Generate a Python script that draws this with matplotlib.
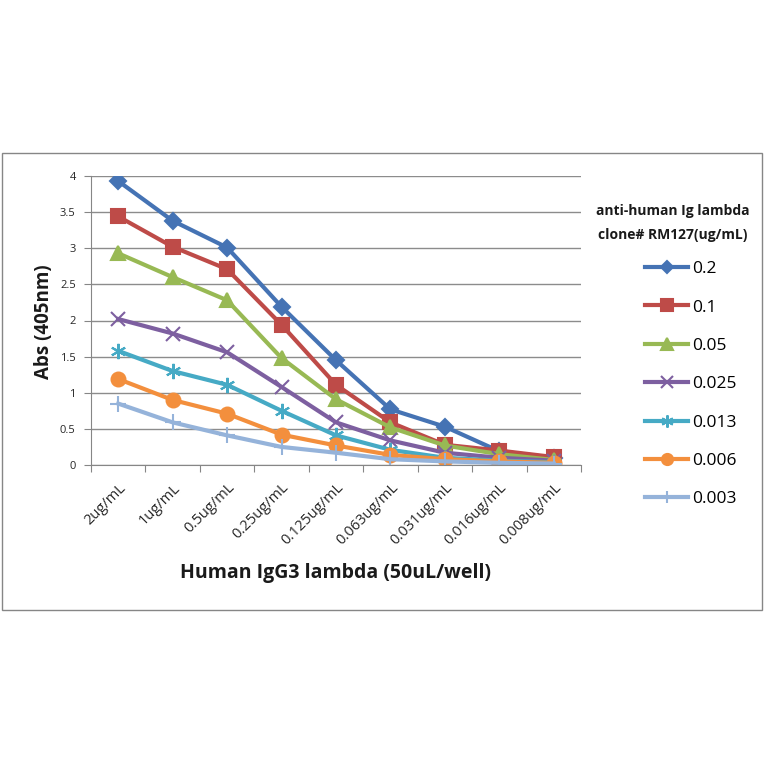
import numpy as np
import matplotlib.pyplot as plt
from matplotlib.patches import Rectangle

plt.rcParams["font.family"] = ["Open Sans", "DejaVu Sans"]

concs = ["2ug/mL", "1ug/mL", "0.5ug/mL", "0.25ug/mL", "0.125ug/mL",
         "0.063ug/mL", "0.031ug/mL", "0.016ug/mL", "0.008ug/mL"]
series_labels = ["0.2", "0.1", "0.05", "0.025", "0.013", "0.006", "0.003"]

abs_02 = [3.93, 3.38, 3.01, 2.19, 1.45, 0.77, 0.53, 0.19, 0.10]
abs_01 = [3.44, 3.02, 2.71, 1.94, 1.11, 0.59, 0.28, 0.20, 0.11]
abs_005 = [2.93, 2.60, 2.28, 1.48, 0.91, 0.52, 0.27, 0.15, 0.07]
abs_0025 = [2.02, 1.82, 1.56, 1.08, 0.59, 0.34, 0.17, 0.10, 0.06]
abs_0013 = [1.58, 1.30, 1.11, 0.75, 0.41, 0.21, 0.10, 0.06, 0.04]
abs_0006 = [1.19, 0.90, 0.71, 0.42, 0.27, 0.14, 0.08, 0.05, 0.03]
abs_0003 = [0.85, 0.59, 0.41, 0.25, 0.17, 0.08, 0.05, 0.03, 0.02]
all_series = [abs_02, abs_01, abs_005, abs_0025, abs_0013, abs_0006, abs_0003]

colors = ["#4573B4", "#BE4B48", "#98B954", "#7D5FA0", "#46AAC5", "#F38F3D", "#95B3DA"]
markers = ["D", "s", "^", "x", (6, 2, 0), "o", "+"]
msizes = [8, 10, 10, 10, 11, 10, 11]

W = 764.0
fig = plt.figure(figsize=(7.64, 7.64), dpi=100)
# outer chart border
fig.patches.append(Rectangle((2/W, 1-610/W), 760/W, 457/W,
                             transform=fig.transFigure, fill=False,
                             edgecolor="#868686", lw=1))

ax = fig.add_axes([91/W, 1-465/W, 490/W, 289/W])
x = np.arange(len(concs))
for vals, lab, c, m, ms in zip(all_series, series_labels, colors, markers, msizes):
    ax.plot(x, vals, color=c, lw=3, marker=m, ms=ms, mec=c, mew=1.5, label=lab)

ax.set_xlim(-0.5, len(concs) - 0.5)
ax.set_ylim(0, 4)
ax.set_yticks(np.arange(0, 4.01, 0.5))
ax.set_yticklabels(["0", "0.5", "1", "1.5", "2", "2.5", "3", "3.5", "4"], fontsize=8)
ax.yaxis.grid(True, color="#8c8c8c", lw=1)
ax.set_axisbelow(True)
ax.set_xticks(np.arange(-0.5, len(concs) + 0.4, 1))
ax.set_xticklabels([])
ax.set_xticks(x, minor=True)
ax.set_xticklabels(concs, minor=True, rotation=45, ha="right", rotation_mode="anchor",
                   fontsize=10.5, color="#262626")
ax.tick_params(axis="x", which="major", length=5, color="#868686")
ax.tick_params(axis="x", which="minor", length=0, pad=11)
ax.tick_params(axis="y", length=5, color="#868686", labelcolor="#262626", pad=6)
for s in ["top", "right"]:
    ax.spines[s].set_visible(False)
for s in ["left", "bottom"]:
    ax.spines[s].set_color("#868686")

fig.text(336/W, 1-573/W, "Human IgG3 lambda (50uL/well)", fontsize=14,
         fontweight="bold", ha="center", va="center", color="#1a1a1a")
fig.text(44/W, 1-322/W, "Abs (405nm)", fontsize=13.5, fontweight="bold",
         rotation=90, ha="center", va="center", color="#1a1a1a")

# legend title
fig.text(673/W, 1-223/W, "anti-human Ig lambda\nclone# RM127(ug/mL)", fontsize=10,
         fontweight="bold", ha="center", va="center", linespacing=1.85, color="#1a1a1a")
leg = fig.legend(loc="upper left", bbox_to_anchor=(645/W, 1-261/W),
                 frameon=False, fontsize=12.5, handlelength=2.5,
                 labelspacing=1.28, handletextpad=0.2, markerscale=0.8,
                 borderpad=0, borderaxespad=0)

fig.savefig("out.png", dpi=100)
